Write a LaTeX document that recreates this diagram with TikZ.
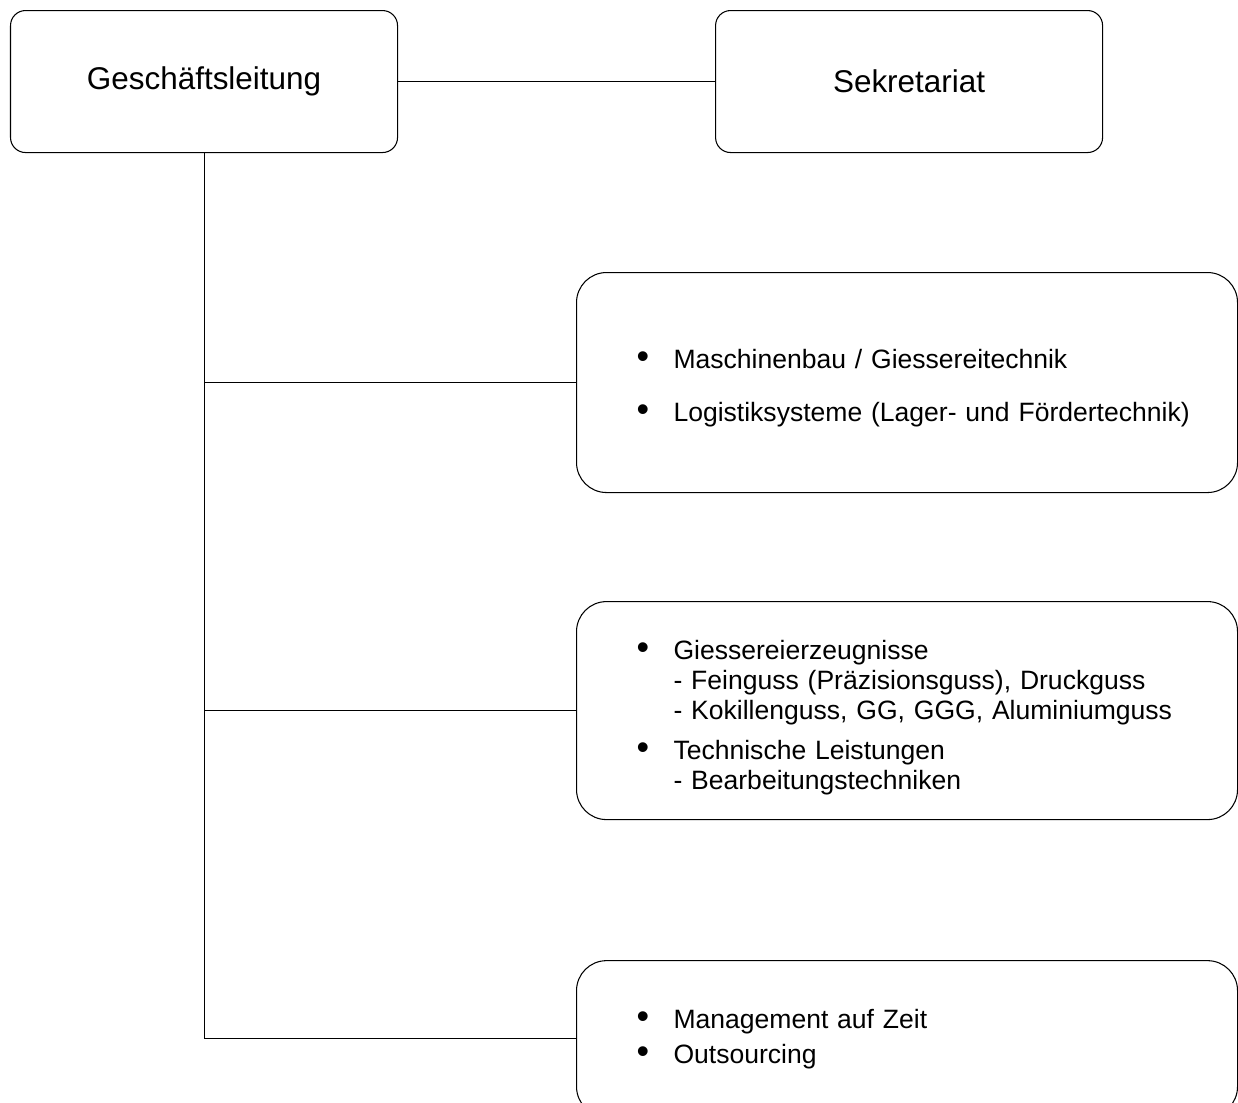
\documentclass[tikz,border=0pt]{standalone}
\usepackage{fontspec}
\setmainfont{Liberation Sans}
\usetikzlibrary{positioning}

\newcommand{\blt}{\hspace*{0.6cm}\makebox[0.74cm][l]{\scalebox{1.35}{\textbullet}}}
\newcommand{\cont}{\hspace*{1.34cm}}

\begin{document}
\begin{tikzpicture}[line width=0.6pt,
    head/.style={draw, rounded corners=0.3cm, minimum width=7.74cm, minimum height=2.84cm, inner sep=0pt, font=\fontsize{17.9}{21}\selectfont},
    unit/.style={draw, rounded corners=0.6cm, text width=12.02cm, inner xsep=0.6cm, inner ysep=0pt, align=left, font=\fontsize{15.1}{17.07}\selectfont}]

\useasboundingbox (0,0) rectangle (24.76,-22.04);
\clip (0,0) rectangle (24.76,-22.04);

\node[head, anchor=north west] (gl) at (0.2,-0.2) {Geschäftsleitung};
\node[head, right=6.34cm of gl] (sek) {Sekretariat};

\node[unit, minimum height=4.4cm, anchor=north west] (mb) at (11.52,-5.44) {
    \blt\rule{0pt}{0.6cm}Maschinenbau / Giessereitechnik\\[0.46cm]
    \blt Logistiksysteme (Lager- und Fördertechnik)};
\node[unit, minimum height=4.36cm, below=2.16cm of mb] (gt) {
    \blt\rule{0pt}{0.68cm}Giessereierzeugnisse\\
    \cont - Feinguss (Präzisionsguss), Druckguss\\
    \cont - Kokillenguss, GG, GGG, Aluminiumguss\\[0.2cm]
    \blt Technische Leistungen\\
    \cont - Bearbeitungstechniken};
\node[unit, minimum height=3.12cm, below=2.8cm of gt] (mz) {
    \blt Management auf Zeit\\[0.1cm]
    \blt Outsourcing};

\draw (gl) -- (sek);
\draw (gl.south) |- (mz.west);
\draw (gl.south |- mb.west) -- (mb.west);
\draw (gl.south |- gt.west) -- (gt.west);

\end{tikzpicture}
\end{document}
